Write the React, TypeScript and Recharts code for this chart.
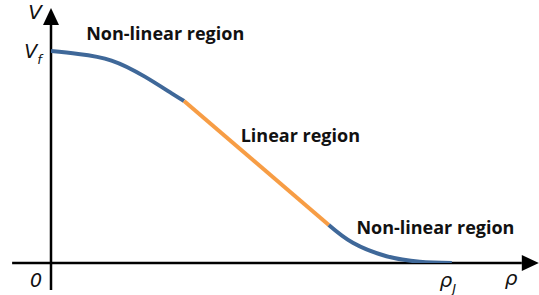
import React from "react";
import { LineChart, Line, XAxis, YAxis, ReferenceLine, ReferenceDot } from "recharts";

// normalised density (rho / rho_J) vs normalised speed (V / V_f)
const upperCurve = [
  { rho: 0, v: 1.0 },
  { rho: 0.068, v: 0.986 },
  { rho: 0.151, v: 0.955 },
  { rho: 0.234, v: 0.879 },
  { rho: 0.301, v: 0.8 },
  { rho: 0.332, v: 0.764 },
];
const linearPart = [
  { rho: 0.332, v: 0.764 },
  { rho: 0.693, v: 0.179 },
];
const lowerCurve = [
  { rho: 0.693, v: 0.179 },
  { rho: 0.753, v: 0.095 },
  { rho: 0.837, v: 0.032 },
  { rho: 0.92, v: 0.006 },
  { rho: 1.0, v: 0 },
];

const regionLabels = [
  { text: "Non-linear region", rho: 0.285, v: 1.085 },
  { text: "Linear region", rho: 0.622, v: 0.606 },
  { text: "Non-linear region", rho: 0.959, v: 0.172 },
];

const BLUE = "#3f6899";
const ORANGE = "#f79d45";
const LABEL_FONT = "'Open Sans', sans-serif";
const MATH_FONT = "'DejaVu Sans', sans-serif";

// axis line with a filled arrow head at (x2, y2)
const ArrowLine = (props: any) => {
  const { x1, y1, x2, y2 } = props;
  const len = 17;
  const half = 8;
  const dx = x2 - x1;
  const dy = y2 - y1;
  const d = Math.sqrt(dx * dx + dy * dy) || 1;
  const ux = dx / d;
  const uy = dy / d;
  const bx = x2 - ux * len;
  const by = y2 - uy * len;
  const pts = `${x2},${y2} ${bx - uy * half},${by + ux * half} ${bx + uy * half},${by - ux * half}`;
  return (
    <g>
      <line x1={x1} y1={y1} x2={bx} y2={by} stroke="#000" strokeWidth={2.5} />
      <polygon points={pts} fill="#000" />
    </g>
  );
};

const textAt = (content: React.ReactNode) => (props: any) => (
  <g transform={`translate(${props.cx},${props.cy})`}>{content}</g>
);

export default function App() {
  return (
    <div style={{ position: "absolute", left: 0, top: 0, background: "#fff" }}>
      <LineChart
        width={539}
        height={295}
        margin={{ top: 8.6, right: 7, left: 51, bottom: 32 }}
      >
        <XAxis type="number" dataKey="rho" domain={[0, 1.2]} hide allowDataOverflow />
        <YAxis type="number" dataKey="v" domain={[0, 1.2]} hide allowDataOverflow />

        <ReferenceLine
          segment={[{ x: -0.097, y: 0 }, { x: 1.217, y: 0 }]}
          ifOverflow="visible"
          shape={ArrowLine}
        />
        <ReferenceLine
          segment={[{ x: 0, y: -0.127 }, { x: 0, y: 1.203 }]}
          ifOverflow="visible"
          shape={ArrowLine}
        />

        <Line data={upperCurve} dataKey="v" type="natural" stroke={BLUE} strokeWidth={4} dot={false} isAnimationActive={false} />
        <Line data={linearPart} dataKey="v" type="linear" stroke={ORANGE} strokeWidth={4} dot={false} isAnimationActive={false} />
        <Line data={lowerCurve} dataKey="v" type="natural" stroke={BLUE} strokeWidth={4} dot={false} isAnimationActive={false} />

        {regionLabels.map((l, i) => (
          <ReferenceDot
            key={i}
            x={l.rho}
            y={l.v}
            ifOverflow="visible"
            shape={textAt(
              <text textAnchor="middle" dominantBaseline="central" fontFamily={LABEL_FONT} fontWeight="bold" fontSize={18} fill="#111">
                {l.text}
              </text>
            )}
          />
        ))}

        <ReferenceDot x={0} y={1.2} ifOverflow="visible" shape={textAt(
          <text x={-16} y={10} textAnchor="middle" fontFamily={MATH_FONT} fontStyle="italic" fontSize={20} fill="#111">V</text>
        )} />
        <ReferenceDot x={0} y={1} ifOverflow="visible" shape={textAt(
          <text x={-18} y={7} textAnchor="middle" fontFamily={MATH_FONT} fontStyle="italic" fontSize={19} fill="#111">
            V<tspan fontSize={13} dy={6}>f</tspan>
          </text>
        )} />
        <ReferenceDot x={0} y={0} ifOverflow="visible" shape={textAt(
          <text x={-15} y={24} textAnchor="middle" fontFamily={MATH_FONT} fontStyle="italic" fontSize={19} fill="#111">0</text>
        )} />
        <ReferenceDot x={1} y={0} ifOverflow="visible" shape={textAt(
          <text x={-4} y={24} textAnchor="middle" fontFamily={MATH_FONT} fontStyle="italic" fontSize={20} fill="#111">
            ρ<tspan fontSize={13} dy={6}>J</tspan>
          </text>
        )} />
        <ReferenceDot x={1.148} y={0} ifOverflow="visible" shape={textAt(
          <text x={0} y={22} textAnchor="middle" fontFamily={MATH_FONT} fontStyle="italic" fontSize={20} fill="#111">ρ</text>
        )} />
      </LineChart>
    </div>
  );
}
